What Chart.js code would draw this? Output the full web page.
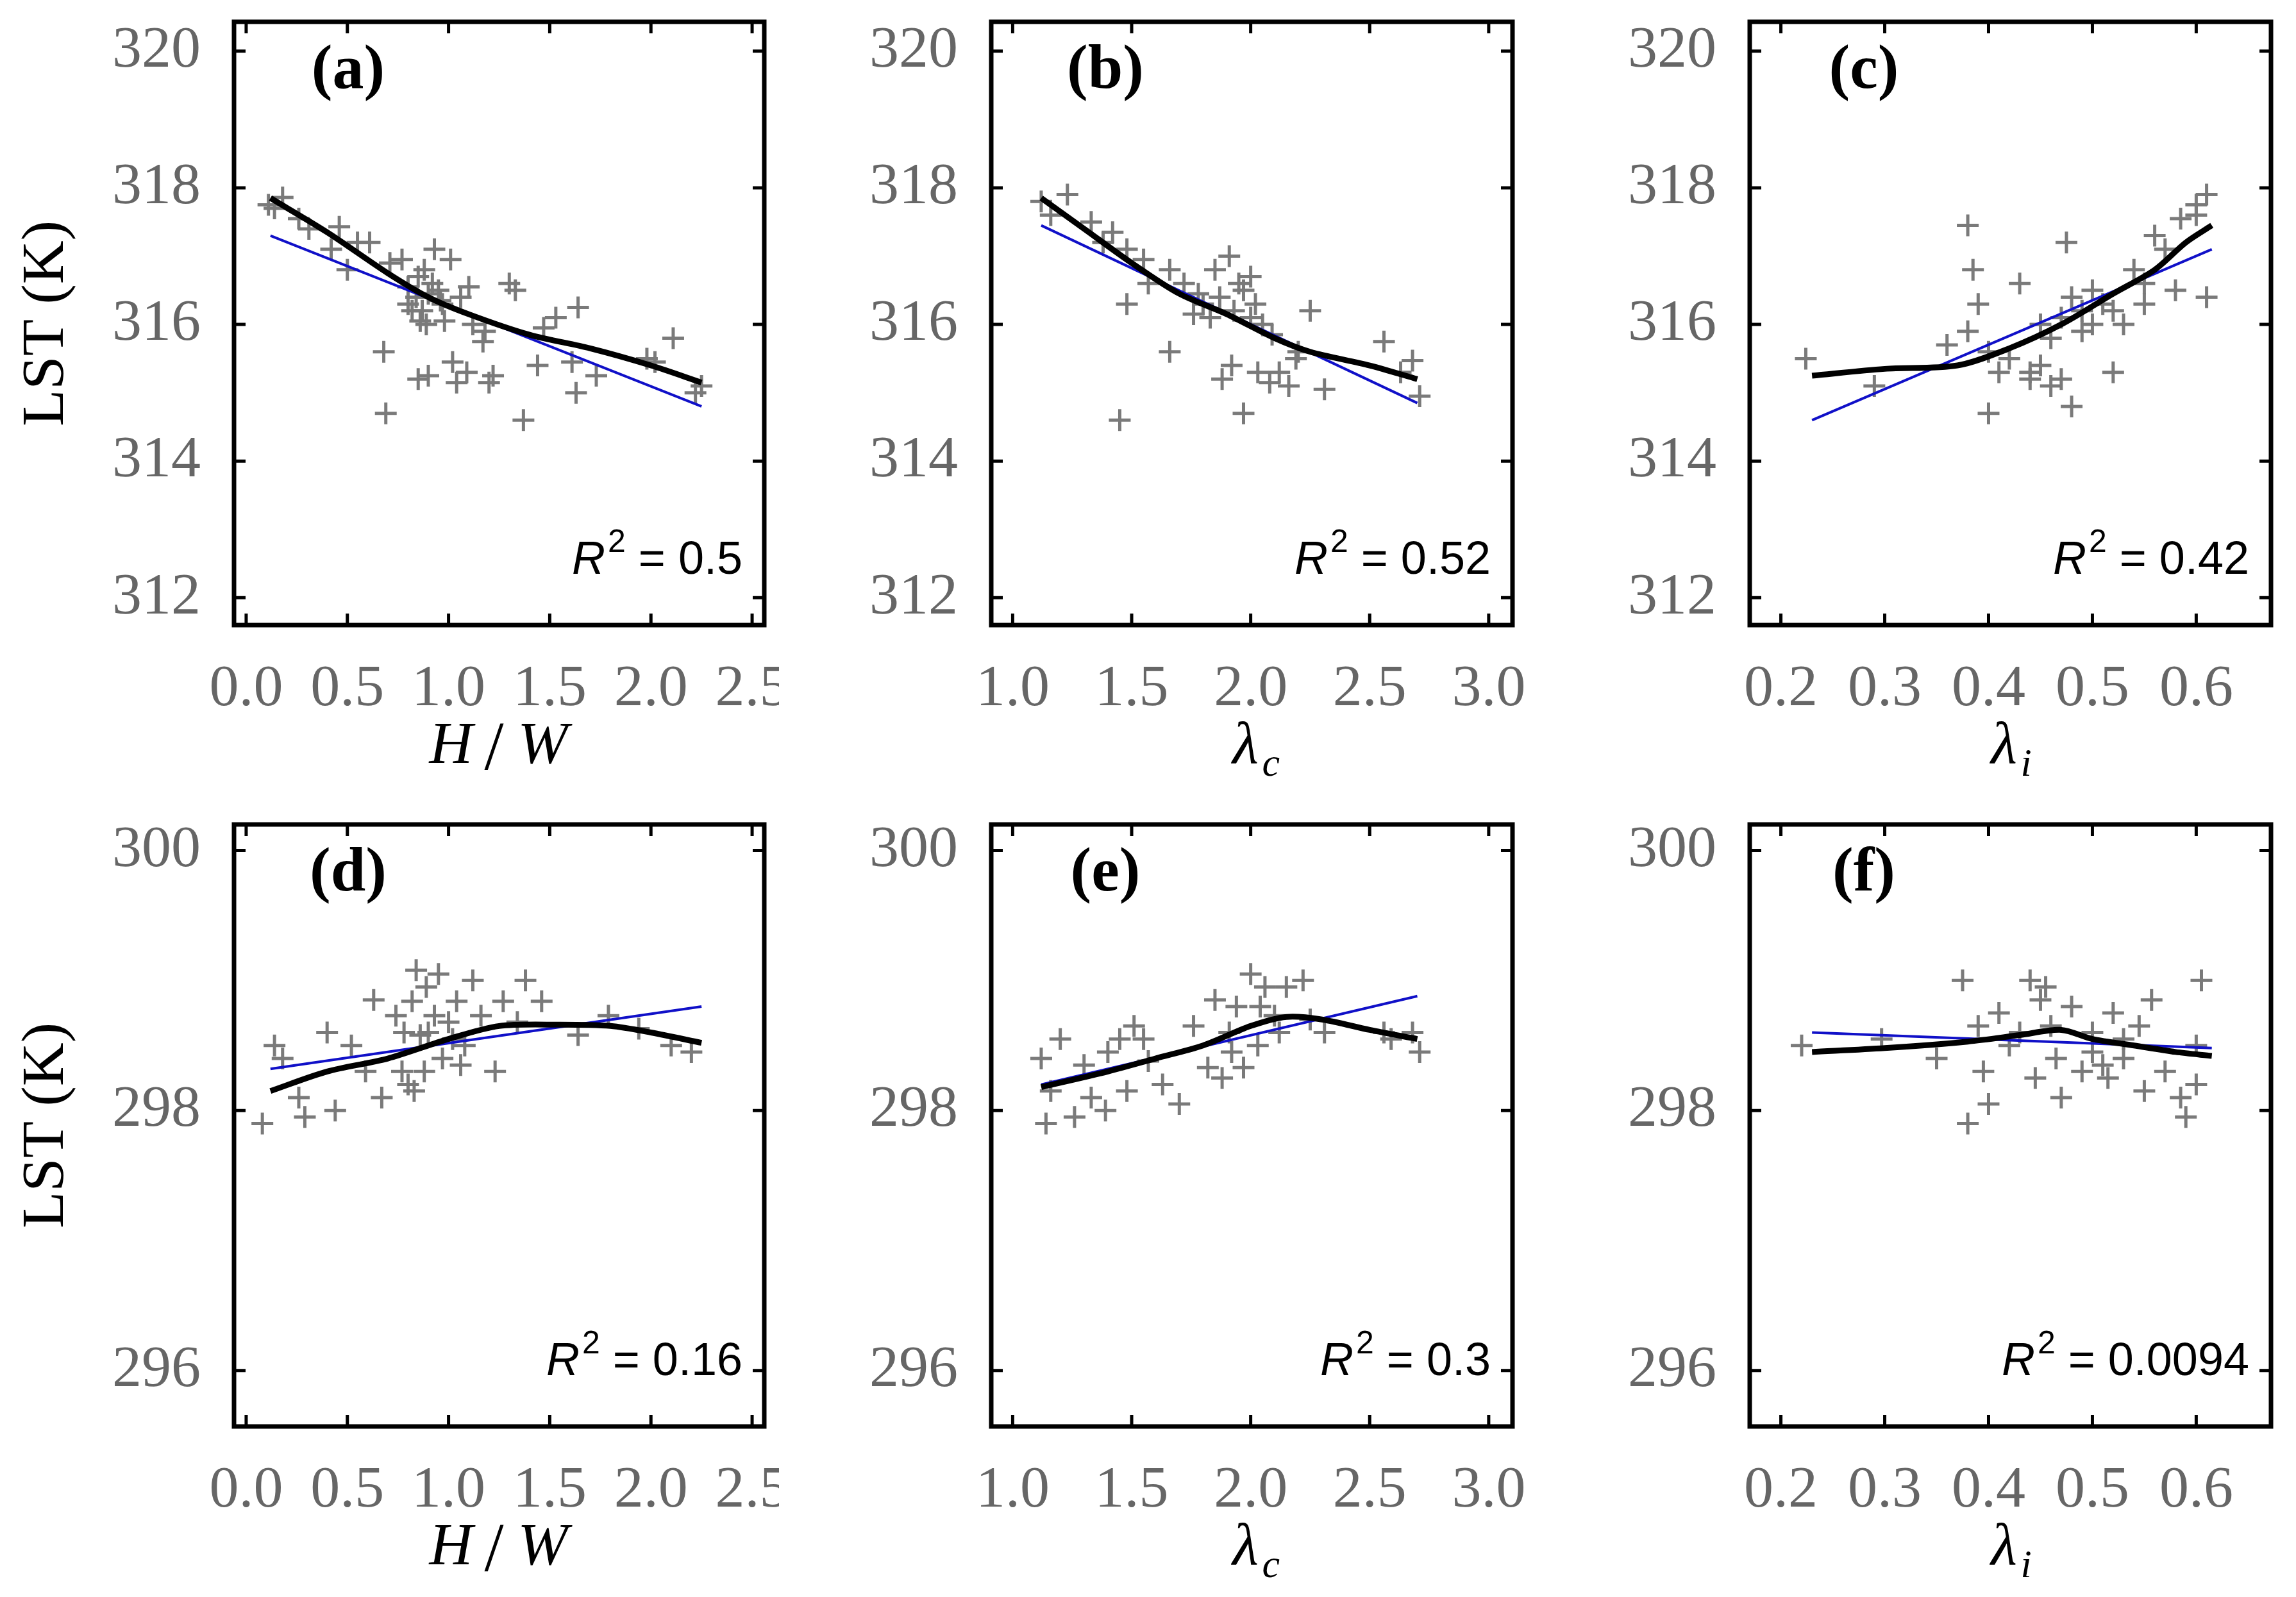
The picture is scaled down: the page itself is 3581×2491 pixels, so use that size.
<!DOCTYPE html>
<html>
<head>
<meta charset="utf-8">
<script src="https://cdn.jsdelivr.net/npm/chart.js@4/dist/chart.umd.min.js"></script>
<style>
  body { margin: 0; background: #fff; width: 3581px; height: 2491px; position: relative; overflow: hidden; }
  canvas { position: absolute; }
</style>
</head>
<body>
<script>
// tick labels
const xTicksHW = [0, 0.5, 1.0, 1.5, 2.0, 2.5];
const xTicksLc = [1.0, 1.5, 2.0, 2.5, 3.0];
const xTicksLi = [0.2, 0.3, 0.4, 0.5, 0.6];
const yTicksTop = [312, 314, 316, 318, 320];
const yTicksBot = [296, 298, 300];

// scatter points [x, y]
const ptsA = [[0.11,317.75],[0.18,317.86],[0.14,317.7],[0.26,317.55],[0.31,317.4],[0.46,317.43],[0.42,317.1],[0.5,316.8],[0.55,317.2],[0.61,317.2],[0.71,316.9],[0.77,316.95],[0.68,315.6],[0.69,314.7],[0.8,316.3],[0.82,316.2],[0.85,316.7],[0.88,316.8],[0.9,316.45],[0.93,317.1],[1.01,316.95],[0.85,315.2],[0.9,315.25],[0.96,316.35],[0.98,316.05],[1.02,315.45],[1.04,315.15],[1.09,315.3],[1.1,316.55],[1.17,315.75],[1.2,315.15],[1.22,315.25],[1.3,316.6],[1.33,316.5],[1.37,314.6],[1.44,315.4],[1.47,315.95],[1.53,316.1],[1.64,316.25],[1.61,315.45],[1.63,315.0],[1.73,315.25],[1.98,315.5],[2.02,315.45],[2.11,315.8],[2.22,315.0],[2.25,315.1],[0.84,316.4],[0.87,316.2],[0.92,316.6],[0.95,316.5],[0.86,316.05],[0.97,316.3],[1.06,316.4],[0.8,316.55],[0.89,316.0],[1.12,316.0],[1.18,315.9]];
const ptsB = [[1.12,317.8],[1.16,317.6],[1.23,317.9],[1.33,317.5],[1.42,317.35],[1.48,317.1],[1.45,314.6],[1.48,316.3],[1.57,316.6],[1.66,316.8],[1.66,315.6],[1.76,316.15],[1.85,316.8],[1.91,317.0],[1.88,315.2],[1.97,316.5],[2.0,316.7],[1.97,314.7],[2.03,315.3],[2.09,315.85],[2.16,315.1],[2.25,316.2],[2.31,315.05],[2.19,315.5],[2.56,315.75],[2.68,315.47],[2.71,314.95],[2.63,315.3],[1.8,316.3],[1.83,316.1],[1.87,316.4],[1.93,316.2],[1.95,316.6],[2.02,316.3],[2.05,316.0],[1.72,316.6],[1.55,316.95],[1.38,317.2],[2.12,315.3],[1.92,315.4],[2.08,315.15],[1.78,316.45],[2.0,316.1],[2.2,315.6]];
const ptsC = [[0.224,315.5],[0.29,315.1],[0.36,315.7],[0.38,317.45],[0.385,316.8],[0.39,316.3],[0.4,314.7],[0.40,315.6],[0.41,315.3],[0.43,316.6],[0.44,315.2],[0.45,315.4],[0.46,315.8],[0.47,315.2],[0.48,314.8],[0.475,317.2],[0.48,316.4],[0.49,316.2],[0.5,316.5],[0.52,315.3],[0.52,316.2],[0.54,316.8],[0.55,316.6],[0.57,317.1],[0.585,317.55],[0.6,317.75],[0.61,316.4],[0.61,317.9],[0.56,317.3],[0.45,316.0],[0.47,316.1],[0.49,315.9],[0.51,316.3],[0.53,316.0],[0.44,315.3],[0.46,315.1],[0.5,316.0],[0.55,316.3],[0.58,316.5],[0.6,317.6],[0.42,315.5],[0.38,315.9]];
const ptsD = [[0.08,297.9],[0.14,298.5],[0.18,298.4],[0.26,298.1],[0.29,297.95],[0.4,298.6],[0.44,298.0],[0.52,298.5],[0.59,298.3],[0.63,298.85],[0.67,298.1],[0.74,298.73],[0.77,298.3],[0.82,298.84],[0.84,299.08],[0.86,298.58],[0.89,298.95],[0.93,298.73],[0.97,298.4],[1.0,298.68],[1.04,298.84],[1.08,298.5],[1.12,299.0],[1.16,298.73],[1.23,298.3],[1.27,298.84],[1.34,298.68],[1.38,299.0],[1.46,298.84],[1.64,298.58],[1.79,298.73],[1.94,298.63],[2.1,298.5],[2.2,298.45],[0.8,298.2],[0.83,298.15],[0.88,298.3],[0.95,299.05],[0.9,298.6],[1.02,298.55],[0.78,298.6],[1.06,298.35]];
const ptsE = [[1.12,298.4],[1.14,297.9],[1.2,298.55],[1.26,297.95],[1.33,298.1],[1.39,298.0],[1.45,298.55],[1.48,298.15],[1.51,298.65],[1.57,298.38],[1.63,298.2],[1.7,298.05],[1.76,298.65],[1.82,298.33],[1.85,298.85],[1.91,298.6],[1.94,298.8],[1.97,298.33],[2.0,299.05],[2.03,298.5],[2.06,298.95],[2.1,298.73],[2.15,298.95],[2.22,299.0],[2.25,298.7],[2.31,298.6],[2.56,298.6],[2.59,298.55],[2.68,298.6],[2.71,298.45],[1.88,298.25],[1.92,298.45],[2.04,298.8],[2.12,298.6],[1.16,298.15],[1.3,298.35],[1.4,298.45],[1.55,298.55]];
const ptsF = [[0.22,298.5],[0.297,298.55],[0.35,298.4],[0.375,299.0],[0.38,297.9],[0.39,298.65],[0.395,298.3],[0.4,298.05],[0.41,298.75],[0.42,298.5],[0.44,299.0],[0.445,298.25],[0.45,298.85],[0.46,298.65],[0.465,298.4],[0.47,298.1],[0.48,298.8],[0.49,298.3],[0.5,298.45],[0.515,298.25],[0.52,298.75],[0.53,298.4],[0.545,298.65],[0.55,298.15],[0.557,298.85],[0.57,298.3],[0.585,298.1],[0.59,297.95],[0.6,298.5],[0.605,299.0],[0.455,298.95],[0.5,298.6],[0.51,298.35],[0.43,298.6],[0.53,298.55],[0.6,298.2]];

// smooth (black) and linear fit (blue) lines
const smA = [[0.12,317.85],[0.4,317.35],[0.7,316.75],[0.9,316.4],[1.1,316.15],[1.4,315.85],[1.7,315.65],[2.0,315.4],[2.25,315.15]];
const lnA = [[0.12,317.3],[2.25,314.8]];
const smB = [[1.12,317.85],[1.3,317.4],[1.5,316.9],[1.7,316.45],[1.9,316.15],[2.1,315.8],[2.25,315.6],[2.5,315.4],[2.7,315.2]];
const lnB = [[1.12,317.45],[2.7,314.85]];
const smC = [[0.23,315.25],[0.3,315.35],[0.37,315.4],[0.42,315.65],[0.47,316.0],[0.52,316.45],[0.56,316.8],[0.59,317.2],[0.615,317.45]];
const lnC = [[0.23,314.6],[0.615,317.1]];
const smD = [[0.12,298.15],[0.4,298.3],[0.7,298.4],[1.0,298.55],[1.25,298.65],[1.55,298.66],[1.8,298.65],[2.0,298.6],[2.25,298.52]];
const lnD = [[0.12,298.32],[2.25,298.8]];
const smE = [[1.12,298.18],[1.4,298.3],[1.6,298.4],[1.8,298.5],[2.0,298.65],[2.15,298.72],[2.3,298.7],[2.5,298.62],[2.7,298.55]];
const lnE = [[1.12,298.2],[2.7,298.88]];
const smF = [[0.23,298.45],[0.3,298.48],[0.38,298.53],[0.43,298.58],[0.47,298.62],[0.5,298.55],[0.54,298.5],[0.58,298.45],[0.615,298.42]];
const lnF = [[0.23,298.6],[0.615,298.48]];

const r2Labels = ['0.5', '0.52', '0.42', '0.16', '0.3', '0.0094'];
const panelLetters = ['(a)', '(b)', '(c)', '(d)', '(e)', '(f)'];

const toXY = arr => arr.map(p => ({x: p[0], y: p[1]}));

// inward ticks on all four sides + frame + texts
const framePlugin = {
  id: 'frame',
  afterDraw(chart) {
    const o = chart.options.plugins.frame;
    const ctx = chart.ctx, a = chart.chartArea;
    const xs = chart.scales.x, ys = chart.scales.y;
    ctx.save();
    ctx.strokeStyle = '#000';
    ctx.lineWidth = 5;
    ctx.beginPath();
    o.xt.forEach(v => {
      const px = xs.getPixelForValue(v);
      ctx.moveTo(px, a.bottom); ctx.lineTo(px, a.bottom - 18);
      ctx.moveTo(px, a.top); ctx.lineTo(px, a.top + 18);
    });
    o.yt.forEach(v => {
      const py = ys.getPixelForValue(v);
      ctx.moveTo(a.left, py); ctx.lineTo(a.left + 18, py);
      ctx.moveTo(a.right, py); ctx.lineTo(a.right - 18, py);
    });
    ctx.stroke();
    ctx.lineWidth = 7;
    ctx.strokeRect(a.left, a.top, a.right - a.left, a.bottom - a.top);

    // panel letter
    ctx.fillStyle = '#000';
    ctx.font = 'bold 98px "Liberation Serif"';
    ctx.textAlign = 'center';
    ctx.textBaseline = 'middle';
    ctx.fillText(o.letter, a.left + 178, a.top + 78);

    // R^2 label
    ctx.textBaseline = 'alphabetic';
    ctx.textAlign = 'left';
    const rest = ' = ' + o.r2;
    ctx.font = '72px "Liberation Sans"';
    const wRest = ctx.measureText(rest).width;
    ctx.font = 'italic 72px "Liberation Sans"';
    const wR = ctx.measureText('R').width;
    ctx.font = '50px "Liberation Sans"';
    const w2 = ctx.measureText('2').width;
    const bx = a.right - 38 - wRest - w2 - wR, by = a.bottom - 80;
    ctx.font = 'italic 72px "Liberation Sans"';
    ctx.fillText('R', bx, by);
    ctx.font = '50px "Liberation Sans"';
    ctx.fillText('2', bx + wR + 4, by - 34);
    ctx.font = '72px "Liberation Sans"';
    ctx.fillText(rest, bx + wR + w2 + 4, by);

    // x axis title
    const cx = (a.left + a.right) / 2, ty = a.bottom + 215;
    ctx.font = 'italic 94px "Liberation Serif"';
    if (o.xt === xTicksHW) {
      ctx.textAlign = 'center';
      ctx.fillText('H', cx - 75, ty);
      ctx.fillText('W', cx + 68, ty);
      ctx.font = '108px "Liberation Serif"';
      ctx.fillText('/', cx - 8, ty + 10);
    } else {
      ctx.textAlign = 'center';
      ctx.fillText('λ', cx - 10, ty);
      ctx.font = 'italic 62px "Liberation Serif"';
      ctx.textAlign = 'left';
      ctx.fillText(o.xt === xTicksLc ? 'c' : 'i', cx + 16, ty + 20);
    }

    // y axis title
    if (o.ytitle) {
      ctx.save();
      ctx.translate(73, (a.top + a.bottom) / 2);
      ctx.rotate(-Math.PI / 2);
      ctx.font = '94px "Liberation Serif"';
      ctx.textAlign = 'center';
      ctx.textBaseline = 'middle';
      ctx.fillText('LST (K)', 0, 0);
      ctx.restore();
    }
    ctx.restore();
  }
};

function makePanel(cfg) {
  const c = document.createElement('canvas');
  c.width = cfg.w; c.height = 1240;
  c.style.left = cfg.left + 'px'; c.style.top = cfg.top + 'px';
  document.body.appendChild(c);
  new Chart(c, {
    type: 'scatter',
    data: {
      datasets: [
        { data: toXY(cfg.pts), pointStyle: 'cross', pointRadius: 17, borderColor: '#7a7a7a', borderWidth: 5, backgroundColor: '#7a7a7a', order: 3 },
        { data: toXY(cfg.ln), showLine: true, borderColor: '#1010c8', borderWidth: 4, pointRadius: 0, order: 2 },
        { data: toXY(cfg.sm), showLine: true, borderColor: '#000', borderWidth: 9, pointRadius: 0, tension: 0.3, order: 1 }
      ]
    },
    options: {
      responsive: false, animation: false, devicePixelRatio: 1,
      layout: { padding: { top: cfg.padTop, right: cfg.padRight } },
      plugins: {
        legend: { display: false }, tooltip: { enabled: false },
        frame: { xt: cfg.xt, yt: cfg.yt, letter: cfg.letter, r2: cfg.r2, ytitle: cfg.ytitle }
      },
      scales: {
        x: {
          type: 'linear', min: cfg.xmin, max: cfg.xmax,
          grid: { display: false, drawTicks: false }, border: { display: false },
          afterBuildTicks: s => { s.ticks = cfg.xt.map(v => ({ value: v })); },
          afterFit: s => { s.height = 265; s.paddingLeft = 0; s.paddingRight = 0; },
          ticks: { padding: 46, color: '#666', font: { family: 'Liberation Serif', size: 92 },
                   callback: v => v.toFixed(1) }
        },
        y: {
          type: 'linear', min: cfg.ymin, max: cfg.ymax,
          grid: { display: false, drawTicks: false }, border: { display: false },
          afterBuildTicks: s => { s.ticks = cfg.yt.map(v => ({ value: v })); },
          afterFit: s => { s.width = cfg.yw; s.paddingTop = 0; s.paddingBottom = 0; },
          ticks: { padding: 52, color: '#666', font: { family: 'Liberation Serif', size: 92 },
                   callback: v => String(v) }
        }
      }
    },
    plugins: [framePlugin]
  });
}

const cols = [
  { left: 0, yw: 365, w: 1215, padRight: 23, xmin: -0.06, xmax: 2.56, xt: xTicksHW },
  { left: 1246, yw: 300, w: 1150, padRight: 37, xmin: 0.91, xmax: 3.1, xt: xTicksLc },
  { left: 2429, yw: 300, w: 1150, padRight: 37, xmin: 0.17, xmax: 0.672, xt: xTicksLi }
];
const rows = [
  { top: 0, padTop: 34, ymin: 311.6, ymax: 320.43, yt: yTicksTop },
  { top: 1250, padTop: 36, ymin: 295.57, ymax: 300.2, yt: yTicksBot }
];
const allPts = [ptsA, ptsB, ptsC, ptsD, ptsE, ptsF];
const allSm = [smA, smB, smC, smD, smE, smF];
const allLn = [lnA, lnB, lnC, lnD, lnE, lnF];

rows.forEach((r, ri) => cols.forEach((c, ci) => {
  const i = ri * 3 + ci;
  makePanel(Object.assign({}, c, r, {
    pts: allPts[i], sm: allSm[i], ln: allLn[i],
    letter: panelLetters[i], r2: r2Labels[i], ytitle: ci === 0
  }));
}));
</script>
</body>
</html>
